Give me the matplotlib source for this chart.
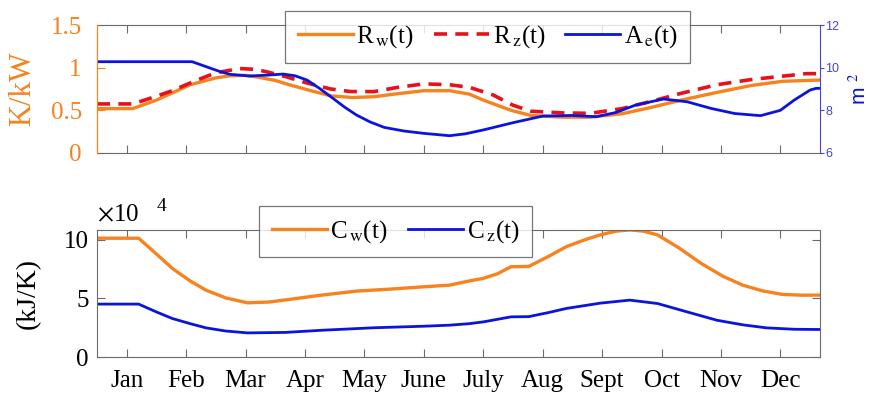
import numpy as np
import matplotlib
matplotlib.use('Agg')
import matplotlib.pyplot as plt

plt.rcParams['font.family'] = ['Liberation Serif', 'DejaVu Serif']
plt.rcParams['mathtext.fontset'] = 'stix'

# data (day of year)
rw_day = [0, 18, 30, 47, 60, 67, 75, 81, 90, 97, 108, 118, 129, 140, 150, 165, 178, 188,
          195, 209, 219, 235, 249, 265, 279, 295, 313, 330, 346, 365]
rw_val = [0.52, 0.52, 0.62, 0.80, 0.88, 0.905, 0.91, 0.89, 0.85, 0.80, 0.73, 0.67, 0.65, 0.66,
          0.69, 0.73, 0.73, 0.69, 0.62, 0.50, 0.44, 0.42, 0.42, 0.46, 0.53, 0.62, 0.71, 0.79,
          0.84, 0.855]

rz_day = [0, 18, 28, 38, 50, 60, 72, 80, 86, 96, 106, 118, 128, 140, 152, 165, 178, 188,
          200, 210, 219, 235, 249, 265, 279, 295, 313, 330, 346, 358, 365]
rz_val = [0.575, 0.575, 0.65, 0.73, 0.85, 0.94, 0.99, 0.98, 0.95, 0.89, 0.82, 0.75, 0.72, 0.72,
          0.77, 0.81, 0.80, 0.77, 0.68, 0.56, 0.49, 0.47, 0.465, 0.52, 0.60, 0.70, 0.80, 0.86,
          0.90, 0.93, 0.93]

ae_day = [0, 48, 55, 62, 67, 77, 86, 94, 100, 106, 112, 118, 125, 131, 138, 145, 155, 165,
          178, 186, 195, 210, 225, 240, 252, 262, 272, 286, 298, 310, 322, 335, 345, 352,
          360, 363, 365]
ae_val = [10.28, 10.28, 10.05, 9.82, 9.69, 9.61, 9.65, 9.70, 9.62, 9.42, 9.05, 8.64, 8.15,
          7.78, 7.45, 7.20, 7.03, 6.92, 6.81, 6.90, 7.08, 7.42, 7.73, 7.76, 7.70, 7.90, 8.25,
          8.53, 8.40, 8.09, 7.85, 7.75, 8.00, 8.48, 8.95, 9.03, 9.03]

cw_day = [0, 21, 30, 38, 47, 55, 65, 76, 87, 97, 114, 131, 148, 165, 178, 188, 195, 202,
          209, 218, 228, 237, 246, 254, 262, 269, 276, 283, 294, 305, 316, 326, 336, 346,
          356, 365]
cw_val = [10.15, 10.15, 8.8, 7.57, 6.5, 5.71, 5.05, 4.63, 4.70, 4.92, 5.30, 5.63, 5.80, 6.00,
          6.14, 6.50, 6.72, 7.10, 7.71, 7.74, 8.60, 9.43, 10.0, 10.43, 10.75, 10.86, 10.75,
          10.43, 9.30, 8.00, 6.90, 6.14, 5.65, 5.35, 5.28, 5.29]

cz_day = [0, 21, 30, 38, 47, 55, 65, 76, 95, 114, 140, 165, 178, 188, 195, 209, 218, 228,
          237, 254, 269, 283, 298, 313, 326, 338, 352, 365]
cz_val = [4.52, 4.52, 3.85, 3.29, 2.85, 2.49, 2.22, 2.06, 2.10, 2.29, 2.50, 2.63, 2.72, 2.85,
          3.00, 3.43, 3.45, 3.80, 4.15, 4.60, 4.86, 4.57, 3.85, 3.14, 2.75, 2.49, 2.37, 2.35]

months = ['Jan', 'Feb', 'Mar', 'Apr', 'May', 'June', 'July', 'Aug', 'Sept', 'Oct', 'Nov', 'Dec']
month_ticks = [15 + 30 * i for i in range(12)]

orange = '#f7821e'
red = '#e8101a'
blue = '#0a14dc'
axblue = '#4444d8'
grey = '#6b6b6b'

fig = plt.figure(figsize=(8.71, 3.94), dpi=100)
ax1 = fig.add_axes([0.1114, 0.6117, 0.83, 0.3248])
ax2 = fig.add_axes([0.1114, 0.0939, 0.83, 0.3223])

# top panel
l1, = ax1.plot(rw_day, np.array(rw_val), color=orange, lw=2.4, label=r'R$_{\,\mathrm{w}}$(t)')
l2, = ax1.plot(rz_day, np.array(rz_val), color=red, lw=2.6, ls=(0, (3.6, 2.3)), label=r'R$_{\,\mathrm{z}}$(t)')
ax1b = ax1.twinx()
l3, = ax1b.plot(ae_day, np.array(ae_val), color=blue, lw=2.0, label=r'A$_{\,\mathrm{e}}$(t)')

ax1.set_xlim(0, 365)
ax1.set_ylim(0, 1.5)
ax1.set_yticks([0, 0.5, 1, 1.5])
ax1.set_yticklabels(['0', '0.5', '1', '1.5'])
ax1.set_xticks(month_ticks)
ax1.set_xticklabels([])
ax1.tick_params(axis='x', direction='in', top=True, length=6, color=grey)
ax1.tick_params(axis='y', direction='in', length=6, colors=orange, labelsize=18, pad=11)
ax1.set_ylabel('K/kW', color=orange, fontsize=22)
ax1.yaxis.set_label_coords(-0.083, 0.5)

ax1b.set_ylim(6, 12)
ax1b.set_yticks([6, 8, 10, 12])
ax1b.tick_params(axis='y', direction='out', length=3, colors=axblue, labelsize=9, pad=1)
for t in ax1b.get_yticklabels():
    t.set_family('Liberation Sans')
ax1b.set_ylabel('m $^{2}$', color=blue, fontsize=15, family='Liberation Sans', rotation=90)
ax1b.yaxis.set_label_coords(1.04, 0.5)

for s in ['top', 'bottom']:
    ax1.spines[s].set_color(grey)
    ax1b.spines[s].set_visible(False)
ax1b.spines['left'].set_color(orange)
ax1b.spines['right'].set_color(axblue)
ax1.spines['left'].set_color(orange)
ax1.spines['right'].set_visible(False)

leg1 = fig.legend(handles=[l1, l2, l3], loc='center', bbox_to_anchor=(0.560, 0.907), ncol=3,
                  fontsize=18, frameon=True, fancybox=False, edgecolor='#555555',
                  handlelength=2.2, handletextpad=0.15, columnspacing=0.8,
                  borderpad=0.5, borderaxespad=0)
leg1.get_frame().set_linewidth(0.9)

# bottom panel
m1, = ax2.plot(cw_day, np.array(cw_val) * 1e4, color=orange, lw=2.4, label=r'C$_{\,\mathrm{w}}$(t)')
m2, = ax2.plot(cz_day, np.array(cz_val) * 1e4, color=blue, lw=2.0, label=r'C$_{\,\mathrm{z}}$(t)')
ax2.set_xlim(0, 365)
ax2.set_ylim(0, 10.85e4)
ax2.set_yticks([0, 5e4, 10e4])
ax2.set_yticklabels(['0', '5', '10'])
ax2.set_xticks(month_ticks)
ax2.set_xticklabels(months)
ax2.tick_params(axis='both', direction='in', top=True, right=True, length=6, color=grey,
                labelsize=18)
ax2.tick_params(axis='x', pad=9)
ax2.tick_params(axis='y', pad=6)
for s in ax2.spines.values():
    s.set_color(grey)
ax2.set_ylabel('(kJ/K)', fontsize=20)
ax2.yaxis.set_label_coords(-0.078, 0.5)
ax2.text(0.0, 1.03, r'$\times$10', transform=ax2.transAxes, fontsize=18, ha='left', va='bottom')
ax2.text(0.083, 1.12, '4', transform=ax2.transAxes, fontsize=14, ha='left', va='bottom')

leg2 = fig.legend(handles=[m1, m2], loc='center', bbox_to_anchor=(0.454, 0.4124), ncol=2,
                  fontsize=18, frameon=True, fancybox=False, edgecolor='#555555',
                  handlelength=2.2, handletextpad=0.15, columnspacing=0.8,
                  borderpad=0.5, borderaxespad=0)
leg2.get_frame().set_linewidth(0.9)

fig.savefig('out.png', dpi=100)
